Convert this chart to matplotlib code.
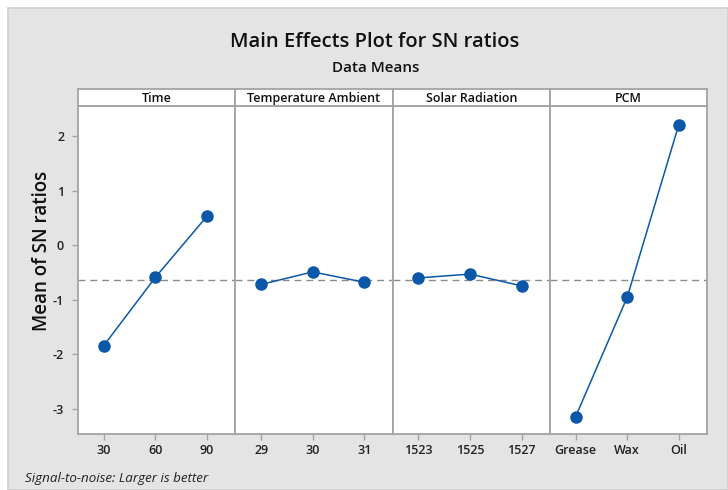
import matplotlib
matplotlib.use("Agg")
import matplotlib.pyplot as plt
from matplotlib.patches import Rectangle

plt.rcParams['font.family'] = ['Open Sans', 'DejaVu Sans']

factors = ["Time", "Temperature Ambient", "Solar Radiation", "PCM"]
time_levels = ["30", "60", "90"]
time_means = [-1.84, -0.59, 0.53]
temp_levels = ["29", "30", "31"]
temp_means = [-0.72, -0.49, -0.68]
solar_levels = ["1523", "1525", "1527"]
solar_means = [-0.60, -0.53, -0.745]
pcm_levels = ["Grease", "Wax", "Oil"]
pcm_means = [-3.14, -0.95, 2.21]
grand_mean = -0.63
y_ticks = [-3, -2, -1, 0, 1, 2]

levels = [time_levels, temp_levels, solar_levels, pcm_levels]
means = [time_means, temp_means, solar_means, pcm_means]

W, H = 728, 490
fig = plt.figure(figsize=(W / 100, H / 100), dpi=100)
fig.patch.set_facecolor("white")
bg = Rectangle((8 / W, 0), 1 - 8 / W, (H - 8) / H, transform=fig.transFigure,
               facecolor="#e4e4e4", edgecolor="#cfcfcf", linewidth=1.2, zorder=-10)
fig.patches.append(bg)

x0 = 78
pw = 157.3
plot_top = 106
plot_bot = 434
head_top = 89
spine_c = "#a3a3a3"
line_c = "#0b57a8"

for i, (name, lv, mv) in enumerate(zip(factors, levels, means)):
    left = (x0 + i * pw) / W
    ax = fig.add_axes([left, (H - plot_bot) / H, pw / W, (plot_bot - plot_top) / H])
    ax.set_facecolor("white")
    xs = list(range(len(lv)))
    ax.plot(xs, mv, color=line_c, lw=1.1, marker="o", ms=8, mfc=line_c, mec=line_c, zorder=3)
    ax.axhline(grand_mean, color="#8c8c8c", lw=1.0, ls=(0, (5, 3.5)), zorder=2)
    ax.set_xlim(-0.5, 2.55)
    ax.set_ylim(-3.46, 2.55)
    ax.set_xticks(xs)
    ax.set_xticklabels(lv, fontsize=9, fontweight="semibold", color="#222222")
    ax.set_yticks(y_ticks)
    for s in ax.spines.values():
        s.set_color(spine_c)
        s.set_linewidth(1.3)
    ax.tick_params(axis="x", length=4, width=1, color=spine_c, pad=3)
    if i == 0:
        ax.set_yticklabels([str(t) for t in y_ticks], fontsize=9, fontweight="semibold", color="#222222")
        ax.tick_params(axis="y", length=4, width=1, color=spine_c, pad=6)
    else:
        ax.tick_params(axis="y", length=0, labelleft=False)
    hax = fig.add_axes([left, (H - plot_top) / H, pw / W, (plot_top - head_top) / H])
    hax.set_facecolor("white")
    hax.set_xticks([])
    hax.set_yticks([])
    for s in hax.spines.values():
        s.set_color(spine_c)
        s.set_linewidth(1.3)
    hax.text(0.5, 0.45, name, transform=hax.transAxes, ha="center", va="center",
             fontsize=9, fontweight="semibold", color="#111111")

fig.text(42 / W, 1 - 251 / H, "Mean of SN ratios", rotation=90, ha="center", va="center",
         fontsize=13.5, fontweight="semibold", color="#111111")
fig.text(375 / W, 1 - 42 / H, "Main Effects Plot for SN ratios", ha="center", va="center",
         fontsize=14.5, fontweight="semibold", color="#111111")
fig.text(376 / W, 1 - 68 / H, "Data Means", ha="center", va="center",
         fontsize=11, fontweight="semibold", color="#111111")
fig.text(25 / W, 1 - 478 / H, "Signal-to-noise: Larger is better", ha="left", va="center",
         fontsize=9.6, style="italic", color="#222222")

fig.savefig("out.png", dpi=100, facecolor=fig.get_facecolor())
